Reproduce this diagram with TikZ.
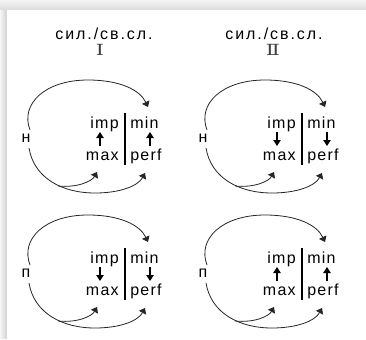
\documentclass[tikz,border=0pt]{standalone}
\usepackage{fontspec}
\setmainfont{Liberation Sans}
\newfontfamily\romfont{DejaVu Serif}
\usetikzlibrary{arrows.meta}
\tikzset{
  curvearrow/.style={line width=0.6pt, black!85, -{Triangle[width=6pt,length=4pt]}},
  shortarrow/.style={line width=1pt, -{Triangle[width=5.5pt,length=4.5pt]}},
  sepline/.style={line width=1.1pt},
  lbl/.style={font=\fontsize{12}{12}\selectfont\addfontfeatures{LetterSpace=8}, inner sep=0pt},
  ttl/.style={font=\fontsize{12}{12}\selectfont\addfontfeatures{LetterSpace=12}, inner sep=0pt},
  rom/.style={font=\fontsize{11.5}{11.5}\selectfont\romfont, text=black!75, inner sep=0pt, xscale=1.35},
}
% #1 dx, #2 dy, #3 letter, #4 prefix, #5 1=up 0=down
\newcommand\mypanel[5]{%
\begin{scope}[shift={(#1,#2)}]
  \node[lbl, anchor=base east] (#4imp) at (119,128) {imp};
  \node[lbl, anchor=base west] (#4min) at (130,128) {min};
  \node[lbl, anchor=base east] (#4max) at (119,160) {max};
  \node[lbl, anchor=base west] (#4perf) at (130,160) {perf};
  \node[lbl] (#4let) at (26,138) {#3};
  \coordinate (#4sa) at (100,132);
  \coordinate (#4sb) at (100,146);
  \coordinate (#4sc) at (150,132);
  \coordinate (#4sd) at (150,146);
  \coordinate (#4la) at (125,113);
  \coordinate (#4lb) at (125,165);
  \draw[sepline] (#4la) -- (#4lb);
  \ifnum#5=1
    \draw[shortarrow] (#4sb) -- (#4sa);
    \draw[shortarrow] (#4sd) -- (#4sc);
  \else
    \draw[shortarrow] (#4sa) -- (#4sb);
    \draw[shortarrow] (#4sc) -- (#4sd);
  \fi
  \coordinate (#4u0) at (30,130);
  \coordinate (#4u1) at (148,107);
  \coordinate (#4b0) at (29,148);
  \coordinate (#4b1) at (145,173);
  \coordinate (#4c0) at (58,186);
  \coordinate (#4c1) at (97,172);
  \draw[curvearrow] (#4u0) .. controls (20,104) and (45,80) .. (88,80)
                           .. controls (120,80) and (140,90) .. (#4u1);
  \draw[curvearrow] (#4b0) .. controls (34,178) and (62,193) .. (95,193)
                           .. controls (120,193) and (138,186) .. (#4b1);
  \draw[curvearrow] (#4c0) .. controls (78,188) and (92,181) .. (#4c1);
\end{scope}}
\begin{document}
\begin{tikzpicture}[x=0.75pt,y=-0.75pt]
  \useasboundingbox (0,0) rectangle (366,339);
  \foreach \i in {0,...,9} {
    \fill[black!\the\numexpr 4+\i\relax] (0,\i) rectangle (366,\i+1);
  }
  \foreach \i in {0,...,6} {
    \fill[black!\the\numexpr 4+2*\i\relax] (\i,10) rectangle (\i+1,339);
  }
  \fill[white] (7,10) rectangle (366,339);
  \node[ttl] (t1) at (104,34) {сил./св.сл.};
  \node[rom] (r1) at (100,50) {Ⅰ};
  \node[ttl] (t2) at (274,34) {сил./св.сл.};
  \node[rom] (r2) at (273,50) {Ⅱ};
  \mypanel{0}{0}{н}{pa}{1}
  \mypanel{177}{0}{н}{pb}{0}
  \mypanel{0}{135}{п}{pc}{0}
  \mypanel{177}{135}{п}{pd}{1}
\end{tikzpicture}
\end{document}
